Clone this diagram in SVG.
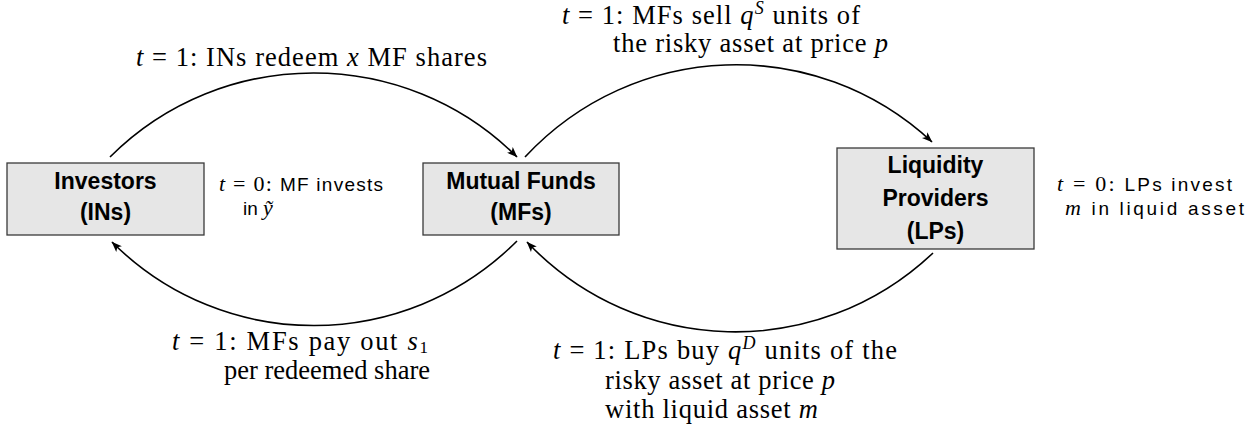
<svg xmlns="http://www.w3.org/2000/svg" width="1249" height="435" viewBox="0 0 1249 435">
<style>
.box{fill:#e6e6e6;stroke:#3a3a3a;stroke-width:1.3}
.bl{font-family:"Liberation Sans",Arial,sans-serif;font-weight:bold;font-size:23px;fill:#000;text-anchor:middle}
.el{font-family:"Liberation Serif","Times New Roman",serif;font-size:26.5px;fill:#000}
.an{font-family:"Liberation Sans",Arial,sans-serif;font-size:19px;fill:#000}
.m{font-family:"Liberation Serif","Times New Roman",serif;font-size:22px}
.i{font-style:italic}
.arc{fill:none;stroke:#000;stroke-width:1.6}
</style>
<defs>
<marker id="ah" markerUnits="userSpaceOnUse" markerWidth="14" markerHeight="12" viewBox="-11 -6 12 12" refX="0" refY="0" orient="auto">
<path d="M0.5,0 L-10,-4 L-7.5,0 L-10,4 Z" fill="#000"/>
</marker>
</defs>
<g id="connectors">
<path class="arc" d="M110,157 C222,45 405,45 517,157" marker-end="url(#ah)"/>
<path class="arc" d="M525,157 C633.6,40.2 815.2,33.4 932,142" marker-end="url(#ah)"/>
<path class="arc" d="M517,241 C405,353 224,354 112,242" marker-end="url(#ah)"/>
<path class="arc" d="M933,253 C817.4,362.3 636.4,357.4 527,242" marker-end="url(#ah)"/>
</g>
<g id="node-investors">
<rect class="box" x="7" y="163" width="197" height="72"/>
<text class="bl" x="105.5" y="189">Investors</text>
<text class="bl" x="105.5" y="220">(INs)</text>
</g>
<g id="node-mutual-funds">
<rect class="box" x="423" y="163" width="196" height="72"/>
<text class="bl" x="521" y="189">Mutual Funds</text>
<text class="bl" x="521" y="220">(MFs)</text>
</g>
<g id="node-liquidity-providers">
<rect class="box" x="837" y="148" width="197" height="101"/>
<text class="bl" x="935.5" y="173">Liquidity</text>
<text class="bl" x="935.5" y="206">Providers</text>
<text class="bl" x="935.5" y="239">(LPs)</text>
</g>
<g id="labels">
<text class="el" x="136" y="66" textLength="351"><tspan class="i">t</tspan> = 1:  INs redeem <tspan class="i">x</tspan> MF shares</text>
<text class="el" x="562" y="24" textLength="298"><tspan class="i">t</tspan> = 1:  MFs sell <tspan class="i">q</tspan><tspan class="i" font-size="18" dy="-10">S</tspan><tspan dy="10"> units of</tspan></text>
<text class="el" x="613" y="52" textLength="275">the risky asset at price <tspan class="i">p</tspan></text>
<text class="el" x="172" y="350" textLength="256"><tspan class="i">t</tspan> = 1:  MFs pay out <tspan class="i">s</tspan><tspan font-size="17" dy="3">1</tspan></text>
<text class="el" x="224" y="379">per redeemed share</text>
<text class="el" x="553" y="359" textLength="344"><tspan class="i">t</tspan> = 1:  LPs buy <tspan class="i">q</tspan><tspan class="i" font-size="18" dy="-10">D</tspan><tspan dy="10"> units of the</tspan></text>
<text class="el" x="605" y="389" textLength="230">risky asset at price <tspan class="i">p</tspan></text>
<text class="el" x="605" y="418" textLength="213">with liquid asset <tspan class="i">m</tspan></text>
<text class="an" x="219" y="191" textLength="164"><tspan class="m i">t</tspan><tspan class="m"> = 0: </tspan> MF invests</text>
<text class="an" x="243" y="215">in <tspan class="m i">ỹ</tspan></text>
<text class="an" x="1057" y="191" textLength="175"><tspan class="m i">t</tspan><tspan class="m"> = 0: </tspan> LPs invest</text>
<text class="an" x="1065" y="215" textLength="179"><tspan class="m i">m</tspan> in liquid asset</text>
</g>
</svg>
